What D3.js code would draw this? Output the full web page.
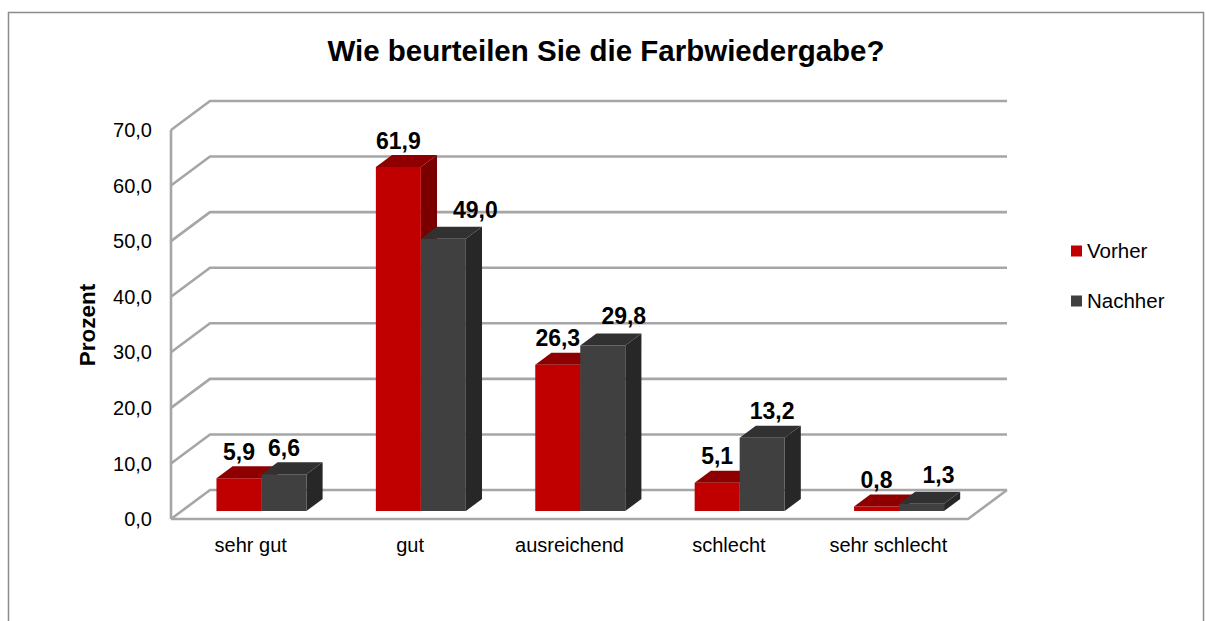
<!DOCTYPE html>
<html>
<head>
<meta charset="utf-8">
<script src="https://cdn.jsdelivr.net/npm/d3@7/dist/d3.min.js"></script>
<style>
html,body{margin:0;padding:0;background:#fff;}
svg{display:block;font-family:"Liberation Sans",Arial,sans-serif;}
</style>
</head>
<body>
<svg id="chart" width="1206" height="621"></svg>
<script>
const title = "Wie beurteilen Sie die Farbwiedergabe?";
const categories = ["sehr gut", "gut", "ausreichend", "schlecht", "sehr schlecht"];
const seriesNames = ["Vorher", "Nachher"];
const vorher = [5.9, 61.9, 26.3, 5.1, 0.8];
const nachher = [6.6, 49.0, 29.8, 13.2, 1.3];
const yTicks = [0, 10, 20, 30, 40, 50, 60, 70];
const yTitle = "Prozent";

// label placement nudges (px), as the source tool shifted some labels sideways
const vorherLabelNudge = [0, 0, 0, 0, 0];
const nachherLabelNudge = [0, 32, 21, 10, 17];

const svg = d3.select("#chart");
const locale = d3.formatLocale({decimal: ",", thousands: ".", grouping: [3], currency: ["", " €"]});
const fmt = locale.format(".1f");

// border
svg.append("rect").attr("x", 8.5).attr("y", 12.5).attr("width", 1195).attr("height", 640)
  .attr("fill", "none").attr("stroke", "#8c8c8c").attr("stroke-width", 1.5);

const x = d3.scaleBand().domain(categories).range([171, 968]);
const y = d3.scaleLinear().domain([0, 70]).range([519, 130]);
const DX = 39, DY = -29;
const d0 = 0.276, d1 = 0.69;
const bw = 45;
const P = (xf, v, d) => [xf + d * DX, y(v) + d * DY];

const gridColor = "#a6a6a6";
const grid = svg.append("g").attr("fill", "none").attr("stroke", gridColor).attr("stroke-width", 2.6)
  .attr("stroke-linejoin", "round");

yTicks.forEach(t => {
  const a = P(171, t, 0), b = P(171, t, 1), c = P(968, t, 1);
  grid.append("path").attr("d", `M${a}L${b}L${c}`);
});
grid.append("path").attr("d", `M${P(171, 0, 0)}L${P(171, 70, 0)}`);
grid.append("path").attr("d", `M${P(171, 0, 0)}L${P(968, 0, 0)}L${P(968, 0, 1)}`);

svg.append("g").selectAll("text").data(yTicks).join("text")
  .attr("x", 152).attr("y", d => y(d)).attr("dy", "0.36em")
  .attr("text-anchor", "end").attr("font-size", 20).attr("fill", "#000")
  .text(d => fmt(d));

svg.append("text").attr("transform", "translate(95,325) rotate(-90)")
  .attr("text-anchor", "middle").attr("font-size", 22.5).attr("font-weight", "bold")
  .text(yTitle);

svg.append("text").attr("x", 606).attr("y", 61).attr("text-anchor", "middle")
  .attr("font-size", 29.5).attr("font-weight", "bold").text(title);

svg.append("g").selectAll("text").data(categories).join("text")
  .attr("x", d => x(d) + x.bandwidth() / 2).attr("y", 552)
  .attr("text-anchor", "middle").attr("font-size", 20).text(d => d);

const series = [
  {name: seriesNames[0], values: vorher, nudge: vorherLabelNudge, front: "#c00000", top: "#8e0000", side: "#7a0000"},
  {name: seriesNames[1], values: nachher, nudge: nachherLabelNudge, front: "#404040", top: "#313131", side: "#272727"}
];

const bars = svg.append("g");
const labels = svg.append("g");
categories.forEach((cat, ci) => {
  series.forEach((s, si) => {
    const v = s.values[ci];
    const xl = x(cat) + (x.bandwidth() - 2 * bw) / 2 + si * bw;
    const xr = xl + bw;
    const poly = pts => bars.append("polygon").attr("points", pts.map(p => p.join(",")).join(" "));
    poly([P(xr, 0, d0), P(xr, 0, d1), P(xr, v, d1), P(xr, v, d0)]).attr("fill", s.side);
    poly([P(xl, 0, d0), P(xr, 0, d0), P(xr, v, d0), P(xl, v, d0)]).attr("fill", s.front);
    poly([P(xl, v, d0), P(xr, v, d0), P(xr, v, d1), P(xl, v, d1)]).attr("fill", s.top);
    const cx = (P(xl, v, d0)[0] + P(xr, v, d0)[0]) / 2 + s.nudge[ci];
    const lift = s.nudge[ci] > 15 ? 9 : 6.5;
    labels.append("text").attr("x", cx).attr("y", P(xl, v, d1)[1] - lift)
      .attr("text-anchor", "middle").attr("font-size", 23).attr("font-weight", "bold")
      .text(fmt(v));
  });
});

const leg = svg.append("g");
series.forEach((s, i) => {
  const cy = 251 + i * 50;
  leg.append("rect").attr("x", 1071).attr("y", cy - 5.5).attr("width", 11).attr("height", 11).attr("fill", s.front);
  leg.append("text").attr("x", 1087).attr("y", cy).attr("dy", "0.36em").attr("font-size", 20.5).text(s.name);
});
</script>
</body>
</html>
